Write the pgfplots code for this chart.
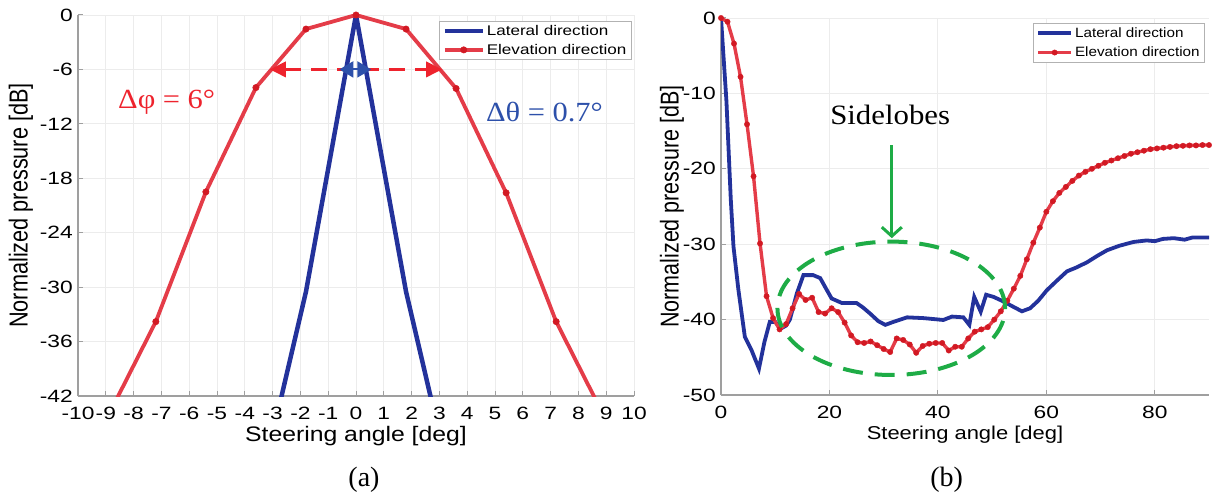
\documentclass[border=0pt]{standalone}
\usepackage{pgfplots}
\pgfplotsset{compat=1.18}
\usepackage{fontspec}
\setmainfont{Liberation Sans}
\newfontfamily\tickfont[FakeStretch=1.28]{Liberation Sans}
\newfontfamily\labfont[FakeStretch=1.18]{Liberation Sans}
\newfontfamily\legfont[FakeStretch=1.22]{Liberation Sans}
\newfontfamily\legfontb[FakeStretch=1.13]{Liberation Sans}
\newfontfamily\annfont[FakeStretch=1.1]{Liberation Serif}
\newfontfamily\capfont{Liberation Serif}
\usetikzlibrary{arrows.meta}
\definecolor{blueL}{RGB}{35,50,155}
\definecolor{redL}{RGB}{228,60,72}
\definecolor{redM}{RGB}{210,25,35}
\definecolor{greenA}{RGB}{30,172,70}
\definecolor{blueT}{RGB}{45,80,170}
\definecolor{redT}{RGB}{238,35,45}
\pgfplotsset{
  mystyle/.style={
    scale only axis,
    axis x line*=bottom, axis y line*=left,
    axis line style={-, draw=gray!75, line width=1.3pt},
    grid=major, grid style={draw=gray!15, line width=0.8pt},
    tick align=inside, major tick length=5pt,
    tick style={draw=gray!75, line width=1pt},
    /pgf/number format/assume math mode=true,
    ticklabel style={font=\tickfont\fontsize{17.8}{18}\selectfont},
    xticklabel style={anchor=north, inner sep=0pt, yshift=-11pt},
    yticklabel style={anchor=east, inner sep=0pt, xshift=-5pt},
    clip mode=individual,
    legend cell align=left,
  }
}
\begin{document}
\begin{tikzpicture}
\useasboundingbox (0,0) rectangle (1215pt,496pt);
% ---------------- (a) ----------------
\begin{axis}[mystyle, at={(78pt,100pt)}, anchor=south west,
  width=556pt, height=381pt,
  xmin=-10, xmax=10, ymin=-42, ymax=0,
  xtick={-10,-9,...,10}, ytick={-42,-36,...,0},
  xlabel={Steering angle [deg]},
  xlabel style={at={(axis description cs:0.5,-0.12)}, anchor=base, font=\labfont\fontsize{21}{24}\selectfont},
  ylabel={\scalebox{1}[1.2]{Normalized pressure [dB]}},
  ylabel style={at={(axis description cs:-0.1025,0.5)}, anchor=center, font=\fontsize{21.7}{24}\selectfont},
  legend image code/.code={\draw[#1,mark repeat=2,mark phase=2] plot coordinates {(0pt,0pt) (18.8pt,0pt) (37.6pt,0pt)};},
  legend style={at={(axis description cs:0.996,0.985)}, anchor=north east, draw=gray!60, line width=0.8pt,
    font=\legfont\fontsize{14}{14}\selectfont, inner xsep=3pt, inner ysep=0.5pt, row sep=0pt,
    nodes={inner xsep=2pt, inner ysep=3.6pt}},
]
\addplot[blueL, line width=4.5pt] coordinates {(-3.6,-55) (-2.7,-42.3) (-1.8,-30.5) (0,0) (1.8,-30.5) (2.7,-42.3) (3.6,-55)};
\addlegendentry{Lateral direction}
\addplot[redL, line width=3.8pt, mark=*, mark size=3.2pt, mark options={fill=redM, draw=redM, line width=0.5pt}]
  coordinates {(-9,-44.7) (-7.2,-33.8) (-5.4,-19.5) (-3.6,-8.0) (-1.8,-1.55) (0,0) (1.8,-1.55) (3.6,-8.1) (5.4,-19.6) (7.2,-33.8) (9,-44.7)};
\addlegendentry{Elevation direction}
\draw[redT, line width=3.5pt, dash pattern=on 16pt off 10pt, {Triangle[length=16pt,width=15pt]}-{Triangle[length=16pt,width=15pt]}] (axis cs:-3.1,-6) -- (axis cs:3.1,-6);
\draw[blueT, line width=2pt, {Triangle[length=14pt,width=16pt]}-{Triangle[length=14pt,width=16pt]}] (axis cs:-0.6,-6) -- (axis cs:0.55,-6);
\node[text=redT, anchor=base, font=\annfont\fontsize{27.7}{30}\selectfont] at (axis cs:-6.81,-10.3) {Δφ = 6°};
\node[text=blueT, anchor=base, font=\annfont\fontsize{27.7}{30}\selectfont] at (axis cs:6.78,-11.78) {Δθ = 0.7°};
\end{axis}
% ---------------- (b) ----------------
\begin{axis}[mystyle, at={(721pt,101pt)}, anchor=south west,
  width=488pt, height=377pt,
  xmin=0, xmax=90, ymin=-50, ymax=0,
  xtick={0,20,...,80}, ytick={-50,-40,...,0},
  xlabel={Steering angle [deg]},
  xlabel style={at={(axis description cs:0.5,-0.119)}, anchor=base, font=\labfont\fontsize{18.6}{22}\selectfont},
  ylabel={\scalebox{1}[1.2]{Normalized pressure [dB]}},
  ylabel style={at={(axis description cs:-0.1004,0.5)}, anchor=center, font=\fontsize{21.5}{24}\selectfont},
  legend image code/.code={\draw[#1,mark repeat=2,mark phase=2] plot coordinates {(0pt,0pt) (16.5pt,0pt) (33pt,0pt)};},
  legend style={at={(axis description cs:0.992,0.9875)}, anchor=north east, draw=gray!60, line width=0.8pt,
    font=\legfontb\fontsize{13.5}{13.5}\selectfont, inner xsep=3pt, inner ysep=0.5pt, row sep=0pt,
    nodes={inner xsep=2pt, inner ysep=4pt}},
]
\addplot[blueL, line width=3.8pt] coordinates {
(0,0) (1,-11) (1.8,-24) (2.3,-30.3) (3.2,-36) (4.4,-42.3) (5.6,-44) (7.0,-46.5) (8.0,-43) (9.0,-40.3)
(10.0,-40.3) (11.0,-41.2) (12.0,-40.8) (12.7,-40) (14.0,-36.5) (15.2,-34.1) (17.0,-34.1) (18.3,-34.5)
(19.3,-35.8) (20.4,-37.2) (22.3,-37.8) (25.0,-37.8) (26.2,-38.4) (27.5,-39.2) (29.0,-40.2) (30.3,-40.7)
(31.8,-40.3) (34.3,-39.7) (37.3,-39.8) (41.0,-40.05) (42.6,-39.6) (44.7,-39.7) (45.8,-40.7) (46.7,-37)
(47.9,-38.95) (48.9,-36.7) (50.3,-37) (52.1,-37.6) (53.9,-38.3) (55.5,-38.9) (57.0,-38.5) (58.5,-37.5)
(60.1,-36.1) (62.0,-34.8) (63.8,-33.6) (65.5,-33.1) (67.5,-32.4) (69.5,-31.5) (71.2,-30.8) (73.5,-30.2)
(76.1,-29.7) (78.5,-29.5) (80.0,-29.6) (81.5,-29.3) (83.5,-29.2) (85.5,-29.4) (87.0,-29.1) (90.0,-29.1)};
\addlegendentry{Lateral direction}
\addplot[redL, line width=3.4pt, mark=*, mark size=2.7pt, mark options={fill=redM, draw=redM, line width=0.4pt}] coordinates {
(0,0) (1.2,-0.5) (2.4,-3.4) (3.6,-7.8) (4.8,-14.1) (6.0,-21.0) (7.2,-29.9) (8.4,-36.9) (9.6,-39.8)
(10.8,-41.3) (12.0,-40.6) (13.2,-38.5) (14.4,-36.6) (15.6,-37.4) (16.8,-37.1) (18.0,-39.0) (19.2,-39.2)
(20.4,-38.5) (21.6,-39.0) (22.8,-40.4) (24.0,-42.1) (25.2,-43.0) (26.4,-43.1) (27.6,-42.9) (28.8,-43.4)
(30.0,-43.9) (31.2,-44.3) (32.4,-42.5) (33.6,-42.7) (34.8,-43.3) (36.0,-44.4) (37.2,-43.5) (38.4,-43.2)
(39.6,-43.1) (40.8,-43.1) (42.0,-44.1) (43.2,-43.6) (44.4,-43.6) (45.6,-42.5) (46.8,-41.6) (48.0,-41.3)
(49.2,-41.0) (50.4,-40.0) (51.6,-38.9) (52.8,-37.5) (54.0,-35.9) (55.2,-34.2) (56.4,-32.0) (57.6,-29.8)
(58.8,-27.8) (60.0,-25.7) (61.2,-24.3) (62.4,-23.2) (63.6,-22.4) (64.8,-21.6) (66.0,-20.9) (67.2,-20.4)
(68.4,-20.0) (69.6,-19.6) (70.8,-19.2) (72.0,-18.9) (73.2,-18.6) (74.4,-18.3) (75.6,-18.0) (76.8,-17.8)
(78.0,-17.6) (79.2,-17.4) (80.4,-17.3) (81.6,-17.2) (82.8,-17.1) (84.0,-17.0) (85.2,-16.95) (86.4,-16.9)
(87.6,-16.9) (88.8,-16.85) (90.0,-16.85)};
\addlegendentry{Elevation direction}
\draw[greenA, line width=4pt, dash pattern=on 20pt off 12pt] (axis cs:31.4,-38.5) ellipse [x radius=113.8pt, y radius=66.7pt];
\draw[greenA, line width=3pt, -{Straight Barb[length=9pt,width=20pt]}] (axis cs:31.5,-16.9) -- (axis cs:31.5,-29.2);
\node[anchor=base, font=\annfont\fontsize{28}{30}\selectfont] at (axis cs:31.2,-14.19) {Sidelobes};
\end{axis}
\node[font=\capfont\fontsize{28}{30}\selectfont] at (364pt,16pt) {(a)};
\node[font=\capfont\fontsize{28}{30}\selectfont] at (946.7pt,16pt) {(b)};
\end{tikzpicture}
\end{document}
